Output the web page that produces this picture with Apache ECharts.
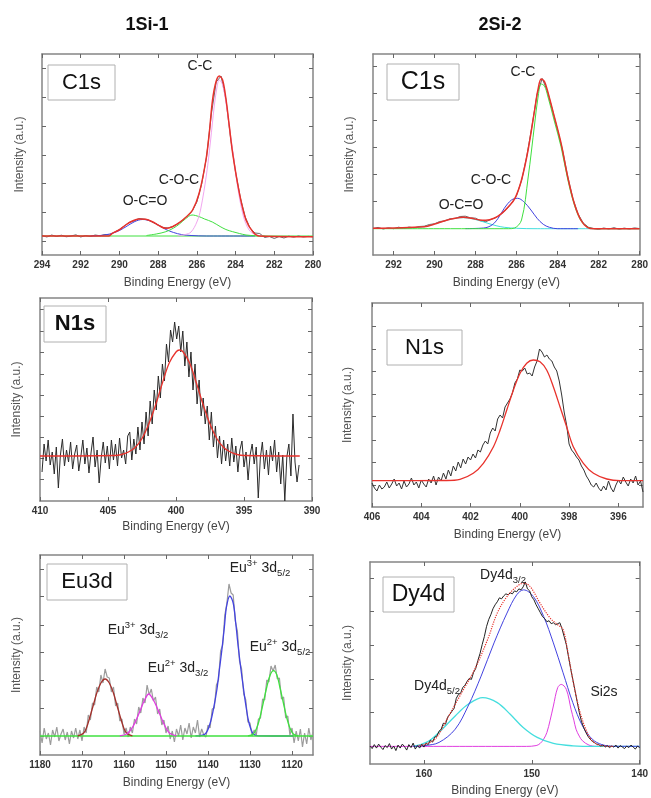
<!DOCTYPE html>
<html>
<head>
<meta charset="utf-8">
<script src="https://cdn.jsdelivr.net/npm/echarts@6.0.0/dist/echarts.min.js"></script>
<style>
html, body { margin: 0; padding: 0; background: #fff; }
#chart { width: 651px; height: 798px; }
</style>
</head>
<body>
<div id="chart"></div>
<script>
// XPS 谱图 6 个面板：左列 1Si-1，右列 2Si-2
var FONT = '"Liberation Sans", Arial, sans-serif';
var FRAME = '#858585';

// ---- C1s 1Si-1 ----
var c1sA_xTicks = [294, 292, 290, 288, 286, 284, 282, 280];
var c1sA_yTicks = [13, 42, 71, 99, 128, 157, 186];
var c1sA_rawStart = 294, c1sA_rawStep = -0.25;
var c1sA_raw = [18.5, 17, 19, 17.5, 18.8, 17.2, 18, 19.2, 17, 18.4, 17.6, 19, 18.2,
  19.5, 19, 22, 24.5, 28, 31.5, 33, 35.5, 35, 34, 31.5, 29, 26.5, 26, 27.5, 30,
  33.5, 38, 42.5, 52, 70, 97, 140, 172, 178, 155, 115, 82, 56, 37, 26, 21,
  20.5, 16.5, 17.5, 15.5, 17.5, 16, 17.8, 16.8, 18, 17, 17.6, 17.2];
var c1sA_fit = [[294, 18], [290.54, 18], [290.37, 20.7], [290.02, 24], [289.68, 29], [289.33, 33],
  [288.99, 35], [288.64, 34.7], [288.3, 32.3], [287.95, 28.3], [287.61, 25.7], [287.26, 27.3],
  [286.91, 31.3], [286.57, 36.7], [286.22, 44], [285.88, 60.7], [285.53, 94], [285.36, 120.7],
  [285.19, 154], [285.01, 172.3], [284.84, 178], [284.67, 174], [284.49, 154], [284.32, 127.3],
  [284.15, 100.7], [283.8, 60.7], [283.46, 34], [283.11, 22.3], [282.77, 18], [280, 17.3]];
var c1sA_oco = [[291.5, 18], [291, 18.5], [290.5, 20], [290, 23.5], [289.6, 28], [289.2, 32.5],
  [288.8, 34.5], [288.4, 33], [288, 29], [287.6, 24.5], [287.2, 21.5], [286.8, 19.5],
  [286.3, 18.5], [285.5, 18], [283, 18]];
var c1sA_coc = [[288.6, 18.5], [288.1, 20], [287.6, 22.3], [287.2, 26], [286.9, 30], [286.6, 35],
  [286.25, 39], [285.9, 37.5], [285.6, 35], [285.2, 32], [284.8, 27.5], [284.5, 24.5],
  [284.15, 22.3], [283.8, 20.5], [283.46, 19], [283, 18.3], [282.5, 18]];
var c1sA_cc = [[287, 18.2], [286.6, 19.5], [286.3, 22], [286, 32], [285.8, 45], [285.5, 80],
  [285.3, 112], [285.1, 148], [284.95, 168], [284.85, 174], [284.7, 171], [284.5, 152],
  [284.3, 124], [284.1, 97], [283.9, 68], [283.6, 38], [283.3, 24], [283, 19.5], [282.6, 18]];
var c1sA_base = [[294, 18], [280, 18]];

// ---- C1s 2Si-2 ----
var c1sB_xTicks = [292, 290, 288, 286, 284, 282, 280];
var c1sB_yTicks = [28, 55, 82, 109, 136, 163, 190];
var c1sB_rawStart = 293, c1sB_rawStep = -0.25;
var c1sB_raw = [27.5, 28.6, 27, 28.2, 27.3, 28.8, 27.6, 28.9, 28.2,
  29.5, 29.8, 31.5, 32.2, 34.5, 35, 37.2, 37.5, 39.5, 39.8, 38.2, 37.8,
  35.2, 34.3, 36.5, 38.5, 42, 46.5, 52.5, 60.5, 76, 100, 130, 162,
  177.5, 165, 146, 126, 105, 79, 57, 42, 33, 28.8, 27.5, 26.6,
  28, 27, 28.3, 26.8, 27.9, 27, 28.1, 27.4];
var c1sB_fit = [[293, 27.7], [290.5, 29.3], [290, 32], [289.5, 35.3], [289, 37.7], [288.6, 38.7],
  [288.2, 37.7], [287.8, 36], [287.5, 35.7], [287.1, 37.7], [286.72, 42.7], [286.4, 49.3],
  [286.08, 57.7], [285.76, 76], [285.44, 106], [285.12, 146], [284.96, 166], [284.8, 177],
  [284.64, 174.3], [284.48, 164.3], [284.16, 139.3], [283.83, 112.7], [283.51, 79.3],
  [283.19, 52.7], [282.87, 36], [282.55, 28.7], [282.2, 27.3], [280, 27.3]];
var c1sB_cc = [[293, 27.3], [286.4, 27.3], [286.1, 28], [285.76, 36], [285.44, 78], [285.12, 132],
  [284.96, 158], [284.8, 172], [284.64, 170], [284.48, 160], [284.16, 135], [283.83, 109],
  [283.51, 77], [283.19, 51.5], [282.87, 35.5], [282.55, 29], [282.2, 27.3], [280, 27.3]];
var c1sB_coc = [[288.5, 27.4], [287.6, 28], [287.2, 31], [286.9, 37.7], [286.6, 47.7], [286.25, 56],
  [285.95, 57.7], [285.65, 54.3], [285.3, 46], [285, 37.7], [284.7, 31.7], [284.4, 28.7],
  [284, 27.3], [283, 27.3]];
var c1sB_oco = [[293, 27.5], [291.5, 27.7], [290.5, 29.3], [290, 32], [289.5, 35.3], [289, 37.7],
  [288.6, 38.3], [288.2, 37.3], [287.8, 35.3], [287.4, 32.7], [287, 30.3], [286.6, 28.7],
  [286, 27.7], [285, 27.3], [280, 27.3]];

// ---- N1s 1Si-1 ----
var n1sA_xTicks = [410, 405, 400, 395, 390];
var n1sA_yTicks = [22.7, 43.7, 64.7, 86, 107, 128, 149.7, 171, 192.7];
var n1sA_rawStart = 409.85, n1sA_rawStep = -0.15;
var n1sA_raw = [30, 58, 41, 62, 37, 50, 28, 55, 14, 47, 63, 36, 52, 40, 60, 33, 48, 57, 31, 45,
  62, 38, 54, 29, 49, 65, 35, 52, 19, 44, 60, 39, 56, 33, 62, 42, 58, 36, 64, 44, 52, 38, 66,
  70, 42, 63, 48, 75, 52, 80, 58, 90, 66, 101, 78, 112, 92, 126, 104, 138, 121, 158, 140,
  172, 160, 180, 163, 176, 150, 171, 136, 160, 125, 150, 112, 138, 98, 122, 86, 104, 78, 96, 62,
  90, 55, 76, 44, 66, 38, 62, 41, 58, 36,
  64, 40, 56, 30, 52, 61, 35, 50, 22, 47, 58, 38, 55, 4, 44, 60, 33, 52, 27, 56,
  41, 62, 30, 50, 18, 47, 1, 45, 58, 26, 88, 40, 20, 37];
var n1sA_fit = [[410, 46], [404.5, 46.5], [404, 47.5], [403.5, 50], [403, 54.5], [402.5, 63.5],
  [402, 78], [401.5, 97], [401, 119], [400.5, 139], [400, 150], [399.75, 152], [399.5, 150.5],
  [399, 139], [398.5, 119], [398, 97], [397.5, 78], [397, 63.5], [396.5, 54.5], [396, 50],
  [395.5, 47.5], [395, 46.5], [390.9, 46]];

// ---- N1s 2Si-2 ----
var n1sB_xTicks = [406, 404, 402, 400, 398, 396];
var n1sB_yTicks = [22, 44.3, 67, 90.3, 112.7, 135.3, 157.7, 180.3];
var n1sB_rawStart = 406, n1sB_rawStep = -0.1;
var n1sB_raw = [24, 19, 16, 22, 18, 20, 25, 19, 23, 28, 21, 24, 18, 26, 20, 23, 29, 22, 25, 19,
  27, 23, 20, 28, 24, 31, 22, 30, 26, 34, 28, 37, 31, 41, 36, 45, 39, 48, 43, 50,
  47, 53, 49, 57, 55, 62, 66, 63, 74, 79, 76, 88, 92, 89, 100, 104, 108, 114, 124, 128,
  137, 136, 139, 133, 134, 131, 140, 146, 158, 155, 150, 152, 148, 146, 140, 136, 126, 112, 95, 82,
  63, 57, 54, 50, 47, 41, 37, 31, 27, 22, 20, 24, 19, 16, 21, 17, 26, 19, 15, 22,
  27, 23, 30, 25, 21, 28, 24, 31, 22, 26, 15];
var n1sB_fit = [[406, 26.3], [403, 26.5], [402.43, 27.7], [401.89, 33.7], [401.48, 43.7],
  [401.07, 60.3], [400.8, 77], [400.53, 97], [400.26, 117], [399.99, 133.7], [399.72, 143.7],
  [399.45, 147], [399.18, 145.3], [398.91, 137], [398.64, 120.3], [398.37, 100.3], [398.1, 80.3],
  [397.83, 60.3], [397.42, 43.7], [397.01, 33.7], [396.47, 28], [395.93, 26.3], [395, 26.3]];

// ---- Eu3d 1Si-1 ----
var eu_xTicks = [1180, 1170, 1160, 1150, 1140, 1130, 1120];
var eu_yTicks = [19, 46.7, 75, 102.3, 130, 158.3, 185.7];
var eu_rawStart = 1180, eu_rawStep = -0.5;
var eu_raw = [24, 12, 27, 16, 22, 10, 25, 18, 28, 14, 21, 26, 15, 23, 11, 24, 17, 27, 16,
  25, 14, 28, 22, 40, 35, 52, 50, 68, 63, 80, 72, 86, 78, 77, 63, 68, 49, 52, 34, 36, 21, 27, 18,
  28, 22, 36, 31, 48, 42, 57, 52, 70, 60, 66, 54, 58, 41, 46, 30, 35, 22, 29, 16,
  24, 13, 26, 19, 30, 15, 27, 21, 32, 17, 28, 22, 35, 18, 26, 20,
  18, 30, 27, 46, 47, 70, 75, 104, 110, 140, 152, 171, 162, 160, 134, 124, 94, 86, 61, 55, 33, 32, 19, 25,
  20, 36, 37, 56, 55, 75, 73, 89, 84, 90, 76, 77, 56, 58, 37, 39, 20, 27, 12, 24,
  14, 26, 8, 22, 11, 27, 15, 23];
var eu_base = [[1180, 19], [1115, 19]];
var eu_3p32 = [[1171, 19.2], [1169.65, 21.7], [1168.9, 27.5], [1168.1, 38.3], [1167.3, 50], [1166.5, 61.7],
  [1165.5, 72], [1164.5, 76], [1163.5, 72], [1162.5, 61.7], [1161.7, 50], [1160.9, 38.3],
  [1160.1, 27.5], [1159.35, 21.7], [1158, 19.2]];
var eu_2p32 = [[1161, 19.1], [1159.4, 21], [1158.6, 24], [1157.8, 29], [1157, 36], [1156.2, 44],
  [1155.2, 54], [1154.1, 61], [1153, 55], [1152.2, 48], [1151.4, 40], [1150.6, 32], [1149.8, 25.5],
  [1149, 21.5], [1147.5, 19.2]];
var eu_3p52 = [[1143, 19.1], [1140.7, 21], [1139.5, 31.7], [1138.7, 46], [1137.9, 65], [1137.3, 85],
  [1136.7, 105], [1136.1, 128], [1135.6, 148], [1134.8, 159], [1134, 152], [1133.4, 132],
  [1132.8, 108], [1132.2, 87], [1131.6, 68], [1131, 50], [1130.4, 35], [1129.8, 26], [1129.2, 21],
  [1128, 19.2], [1119.7, 19]];
var eu_2p52 = [[1130.5, 19.1], [1129.2, 21], [1128.4, 27], [1127.6, 38], [1126.8, 53], [1126, 68],
  [1125.2, 80], [1124.4, 84.3], [1123.6, 80], [1122.9, 68], [1122.1, 53], [1121.3, 38],
  [1120.5, 27], [1119.7, 21], [1118.5, 19.2]];

// ---- Dy4d 2Si-2 ----
var dy_xTicks = [160, 150, 140];
var dy_yTicks = [17.7, 51.7, 85, 119, 153.3, 186.7];
var dy_rawStart = 165, dy_rawStep = -0.2;
var dy_raw = [18, 15.5, 19.5, 16, 20, 17, 14.5, 18.5, 16.5, 20.5, 15, 18, 13.5, 19, 16, 20, 17.5, 14,
  19.5, 16.5, 21, 15, 18.5, 16, 20,
  17, 21, 19.5, 24, 22, 27, 28, 33, 35, 41, 40, 47, 50, 53, 56, 66, 70, 71, 77, 79, 83, 86, 85, 92, 96, 104,
  111, 120, 128, 138, 145, 150, 156, 160, 163, 167, 166, 169, 171, 170, 172, 171, 174, 173, 176, 175,
  178, 183, 176, 174, 168,
  165, 160, 156, 152, 148, 146, 143, 144, 141, 142, 140, 141, 142, 136, 128, 120, 108, 96, 85, 74,
  63, 52, 43, 37, 32,
  28, 25, 23, 21.5, 20, 19.5, 18, 19, 17, 18.5, 16.5, 18, 17, 19, 16, 18.5, 17, 15.5, 18, 16.5,
  19, 17, 15, 18, 16.5];
var dy_fit = [[160.5, 18.5], [159.85, 20], [158.9, 25.7], [157.7, 48.3], [156.5, 71.7], [155.3, 95],
  [154.1, 125], [153.2, 151.7], [152.3, 168.3], [151.4, 178.3], [150.76, 181.7], [150.15, 178.3],
  [149.24, 161.7], [148.3, 146.7], [147.6, 140], [147.1, 135], [146.7, 115], [146.2, 85],
  [145.6, 55], [145, 35], [144.4, 23.3], [143.5, 18.3], [142.5, 17.7]];
var dy_d32 = [[161, 17.7], [159.9, 18.5], [158.6, 21.7], [157.1, 35], [155.9, 58.3], [154.7, 88.3],
  [153.5, 121.7], [152.3, 151.7], [151.4, 170], [150.76, 175], [149.85, 168.3], [148.9, 148.3],
  [148, 121.7], [147.1, 91.7], [146.2, 61.7], [145.3, 38.3], [144.4, 25], [143.5, 19.5],
  [142.3, 17.7], [140, 17.7]];
var dy_d52 = [[161, 17.7], [160.3, 19.5], [159.5, 23.3], [158.3, 35], [157.1, 48.3], [155.9, 60],
  [154.55, 66.7], [153.2, 61.7], [152, 50], [150.8, 36.7], [149.5, 26.7], [148, 20.7],
  [146.2, 18.3], [144, 17.7], [140, 17.7]];
var dy_si2s = [[165, 17.7], [150.5, 17.7], [149.6, 18.5], [149.24, 20.5], [148.9, 25], [148.6, 31.7],
  [148.3, 44], [148, 58.3], [147.6, 76.7], [147.27, 80], [146.8, 75], [146.36, 55], [146.1, 44],
  [145.9, 35], [145.6, 28], [145.3, 23.3], [144.7, 19], [144, 17.7], [140, 17.7]];

// 把步长数据转成 [能量, 强度]
function toPts(start, step, vals) {
  return vals.map(function (v, i) {
    return [Math.round((start + step * i) * 100) / 100, v];
  });
}

var panels = [
  { grid: { left: 42, top: 54, width: 271, height: 201 }, xMin: 280, xMax: 294, xTicks: c1sA_xTicks,
    yMin: -1, yMax: 200, yTicks: c1sA_yTicks, gapX: 22, gapY: 16 },
  { grid: { left: 373, top: 54, width: 270, height: 201 }, xMin: 280, xMax: 293, xTicks: c1sB_xTicks,
    yMin: 1, yMax: 202, yTicks: c1sB_yTicks, gapX: 22, gapY: 17 },
  { grid: { left: 40, top: 298, width: 272, height: 203 }, xMin: 390, xMax: 410, xTicks: n1sA_xTicks,
    yMin: 1, yMax: 204, yTicks: n1sA_yTicks, gapX: 20, gapY: 17 },
  { grid: { left: 372, top: 303, width: 271, height: 204 }, xMin: 395, xMax: 406, xTicks: n1sB_xTicks,
    yMin: 0, yMax: 204, yTicks: n1sB_yTicks, gapX: 22, gapY: 18 },
  { grid: { left: 40, top: 555, width: 273, height: 200 }, xMin: 1115, xMax: 1180, xTicks: eu_xTicks,
    yMin: 0, yMax: 200, yTicks: eu_yTicks, gapX: 22, gapY: 17 },
  { grid: { left: 370, top: 562, width: 275, height: 203 }, xMin: 140, xMax: 165, xTicks: dy_xTicks,
    yMin: 0, yMax: 203, yTicks: dy_yTicks, gapX: 21, gapY: 16 }
];

var grids = [], xAxes = [], yAxes = [];
panels.forEach(function (p, i) {
  grids.push(p.grid);
  var axLine = { onZero: false, lineStyle: { color: FRAME, width: 1.5 } };
  var xTick = { inside: true, length: 4, customValues: p.xTicks, lineStyle: { color: '#666' } };
  var yTick = { inside: true, length: 4, customValues: p.yTicks, lineStyle: { color: '#666' } };
  xAxes.push({
    gridIndex: i, type: 'value', inverse: true, min: p.xMin, max: p.xMax, position: 'bottom',
    name: 'Binding Energy (eV)', nameLocation: 'middle', nameGap: p.gapX,
    nameTextStyle: { color: '#444', fontSize: 12, fontFamily: FONT },
    axisLine: axLine, axisTick: xTick,
    axisLabel: { customValues: p.xTicks, margin: 5, color: '#333', fontSize: 10, fontWeight: 'bold', fontFamily: FONT,
      formatter: function (v) { return String(v); } },
    splitLine: { show: false }
  });
  xAxes.push({
    gridIndex: i, type: 'value', inverse: true, min: p.xMin, max: p.xMax, position: 'top',
    axisLine: axLine, axisTick: xTick, axisLabel: { show: false }, splitLine: { show: false }
  });
  yAxes.push({
    gridIndex: i, type: 'value', min: p.yMin, max: p.yMax, position: 'left',
    name: 'Intensity (a.u.)', nameLocation: 'middle', nameGap: p.gapY,
    nameTextStyle: { color: '#555', fontSize: 12, fontFamily: FONT },
    axisLine: axLine, axisTick: yTick, axisLabel: { show: false }, splitLine: { show: false }
  });
  yAxes.push({
    gridIndex: i, type: 'value', min: p.yMin, max: p.yMax, position: 'right',
    axisLine: axLine, axisTick: yTick, axisLabel: { show: false }, splitLine: { show: false }
  });
});

function curve(panel, data, color, width, smooth, dash) {
  return {
    type: 'line', xAxisIndex: panel * 2, yAxisIndex: panel * 2, data: data,
    symbol: 'none', smooth: smooth ? 0.35 : false, silent: true,
    lineStyle: { color: color, width: width, type: dash || 'solid' }
  };
}

var RED = '#e8322c', BLUE = '#4343e0', GREEN = '#3fe03f', PINK = '#f2a6f0',
    CYAN = '#45dede', MAGENTA = '#e03de0', BROWN = '#a3302b';

var series = [
  // C1s 1Si-1
  curve(0, c1sA_base, GREEN, 1, false),
  curve(0, toPts(c1sA_rawStart, c1sA_rawStep, c1sA_raw), '#6a6a6a', 1, false),
  curve(0, c1sA_oco, BLUE, 1, true),
  curve(0, c1sA_coc, GREEN, 1, true),
  curve(0, c1sA_cc, PINK, 1, true),
  curve(0, c1sA_fit, RED, 1.5, true),
  // C1s 2Si-2
  curve(1, toPts(c1sB_rawStart, c1sB_rawStep, c1sB_raw), '#666', 1, false),
  curve(1, c1sB_oco, CYAN, 1, true),
  curve(1, c1sB_coc, BLUE, 1, true),
  curve(1, c1sB_cc, GREEN, 1, true),
  curve(1, c1sB_fit, RED, 1.5, true),
  // N1s
  curve(2, toPts(n1sA_rawStart, n1sA_rawStep, n1sA_raw), '#2a2a2a', 1, false),
  curve(2, n1sA_fit, RED, 1.3, true),
  curve(3, toPts(n1sB_rawStart, n1sB_rawStep, n1sB_raw), '#333', 1, false),
  curve(3, n1sB_fit, RED, 1.3, true),
  // Eu3d
  curve(4, toPts(eu_rawStart, eu_rawStep, eu_raw), '#9c9c9c', 1.2, false),
  curve(4, eu_3p52, BLUE, 1.3, true),
  curve(4, eu_base, GREEN, 1.3, false),
  curve(4, eu_3p32, BROWN, 1.3, true),
  curve(4, eu_2p32, MAGENTA, 1.3, true),
  curve(4, eu_2p52, GREEN, 1.3, true),
  // Dy4d
  curve(5, dy_si2s, MAGENTA, 1, true),
  curve(5, dy_d52, CYAN, 1.3, true),
  curve(5, dy_d32, BLUE, 1, true),
  curve(5, toPts(dy_rawStart, dy_rawStep, dy_raw), '#222', 1, false),
  curve(5, dy_fit, RED, 1.2, true, 'dotted')
];

// 标签框、峰位标注
function tagBox(x, y, w, h, text, size, bold) {
  return [
    { type: 'rect', shape: { x: x, y: y, width: w, height: h }, style: { fill: '#fff', stroke: '#b0b0b0', lineWidth: 1 }, z: 10 },
    { type: 'text', x: x + w / 2, y: y + h / 2, z: 11,
      style: { text: text, fill: '#111', font: (bold ? 'bold ' : '') + size + 'px ' + FONT,
        align: 'center', verticalAlign: 'middle', textAlign: 'center', textVerticalAlign: 'middle' } }
  ];
}
function note(x, y, text, rich) {
  return { type: 'text', x: x, y: y, z: 11,
    style: { text: text, fill: '#222', font: '14px ' + FONT, rich: rich,
      align: 'center', verticalAlign: 'middle', textAlign: 'center', textVerticalAlign: 'middle' } };
}
var RICH = {
  m: { fontSize: 14, fontFamily: FONT, fill: '#222', lineHeight: 20 },
  s: { fontSize: 9.5, fontFamily: FONT, fill: '#222', verticalAlign: 'top' },
  b: { fontSize: 9.5, fontFamily: FONT, fill: '#222', verticalAlign: 'bottom' }
};

var graphics = [
  { type: 'text', x: 147, y: 25, style: { text: '1Si-1', fill: '#111', font: 'bold 18px ' + FONT,
      align: 'center', verticalAlign: 'middle', textAlign: 'center', textVerticalAlign: 'middle' } },
  { type: 'text', x: 500, y: 25, style: { text: '2Si-2', fill: '#111', font: 'bold 18px ' + FONT,
      align: 'center', verticalAlign: 'middle', textAlign: 'center', textVerticalAlign: 'middle' } }
]
  .concat(tagBox(48, 65, 67, 35, 'C1s', 22))
  .concat(tagBox(387, 64, 72, 36, 'C1s', 25))
  .concat(tagBox(44, 306, 62, 36, 'N1s', 22, true))
  .concat(tagBox(387, 330, 75, 35, 'N1s', 22))
  .concat(tagBox(47, 564, 80, 36, 'Eu3d', 22))
  .concat(tagBox(383, 577, 71, 35, 'Dy4d', 23))
  .concat([
    note(200, 66, 'C-C'), note(179, 180, 'C-O-C'), note(145, 201, 'O-C=O'),
    note(523, 72, 'C-C'), note(491, 180, 'C-O-C'), note(461, 205, 'O-C=O'),
    note(138, 630, '{m|Eu}{s|3+}{m| 3d}{b|3/2}', RICH),
    note(178, 668, '{m|Eu}{s|2+}{m| 3d}{b|3/2}', RICH),
    note(260, 568, '{m|Eu}{s|3+}{m| 3d}{b|5/2}', RICH),
    note(280, 647, '{m|Eu}{s|2+}{m| 3d}{b|5/2}', RICH),
    note(503, 575, '{m|Dy4d}{b|3/2}', RICH),
    note(437, 686, '{m|Dy4d}{b|5/2}', RICH),
    note(604, 692, 'Si2s')
  ]);

var myChart = echarts.init(document.getElementById('chart'));
myChart.setOption({
  animation: false,
  backgroundColor: '#fff',
  grid: grids,
  xAxis: xAxes,
  yAxis: yAxes,
  series: series,
  graphic: graphics
});
window.addEventListener('resize', function () { myChart.resize(); });
</script>
</body>
</html>
